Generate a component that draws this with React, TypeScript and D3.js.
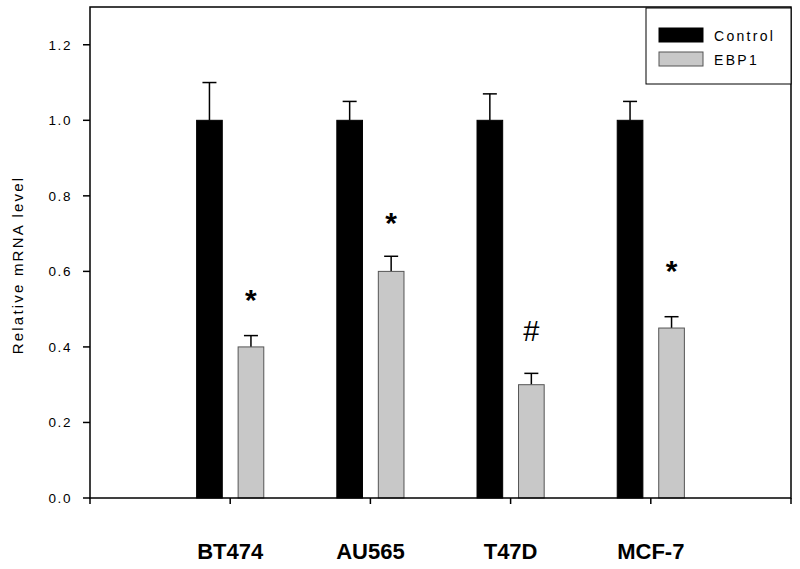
import React from "react";
import * as d3 from "d3";

const categories = ["BT474", "AU565", "T47D", "MCF-7"];
const controlValues = [1.0, 1.0, 1.0, 1.0];
const controlErrors = [0.1, 0.05, 0.07, 0.05];
const ebp1Values = [0.4, 0.6, 0.3, 0.45];
const ebp1Errors = [0.03, 0.04, 0.03, 0.03];
const markerLabels = ["*", "*", "#", "*"];
const markerValues = [0.54, 0.743, 0.445, 0.616];
const yTicks = [0.0, 0.2, 0.4, 0.6, 0.8, 1.0, 1.2];
const legendLabels = ["Control", "EBP1"];

const W = 800;
const H = 569;
const left = 90;
const right = 791;
const top = 7;
const bottom = 498;
const FONT = "'Liberation Sans', Arial, sans-serif";

export default function App() {
  const x = d3.scaleLinear().domain([0, categories.length + 1]).range([left, right]);
  const y = d3.scaleLinear().domain([0, 1.3]).range([bottom, top]);
  const barW = 0.183;
  const off = 0.148;
  const capHalf = 7;
  const xTicks = d3.range(0, categories.length + 2);
  const series = [
    { values: controlValues, errors: controlErrors, fill: "#000", stroke: "#000", dx: -off },
    { values: ebp1Values, errors: ebp1Errors, fill: "#c8c8c8", stroke: "#555", dx: off },
  ];
  const bw = x(barW) - x(0);

  return (
    <svg width={W} height={H} style={{ position: "absolute", left: 0, top: 0, background: "#fff" }}>
      <rect x={0} y={0} width={W} height={H} fill="#fff" />
      {series.map((s, si) =>
        categories.map((c, i) => {
          const cx = x(i + 1 + s.dx);
          const yt = y(s.values[i]);
          const ye = y(s.values[i] + s.errors[i]);
          return (
            <g key={`${si}-${c}`}>
              <line x1={cx} x2={cx} y1={yt} y2={ye} stroke="#000" strokeWidth={1.5} />
              <line x1={cx - capHalf} x2={cx + capHalf} y1={ye} y2={ye} stroke="#000" strokeWidth={1.5} />
              <rect
                x={cx - bw / 2}
                y={yt}
                width={bw}
                height={bottom - yt}
                fill={s.fill}
                stroke={s.stroke}
                strokeWidth={1}
              />
            </g>
          );
        })
      )}
      {categories.map((c, i) => {
        const cx = x(i + 1 + off);
        const isStar = markerLabels[i] === "*";
        const base = y(markerValues[i]) + (isStar ? 16 : 11);
        return (
          <text
            key={`m-${c}`}
            x={cx}
            y={base}
            textAnchor="middle"
            fontFamily={FONT}
            fontSize={isStar ? 30 : 29}
            fontWeight={isStar ? "bold" : "normal"}
            fill="#000"
          >
            {markerLabels[i]}
          </text>
        );
      })}
      {/* frame */}
      <rect x={left} y={top} width={right - left} height={bottom - top} fill="none" stroke="#000" strokeWidth={1.5} />
      {/* y ticks */}
      {yTicks.map((t) => (
        <g key={`y-${t}`}>
          <line x1={left - 7} x2={left} y1={y(t)} y2={y(t)} stroke="#000" strokeWidth={1.5} />
          <text
            x={72}
            y={y(t)}
            dy="0.36em"
            textAnchor="end"
            fontFamily={FONT}
            fontSize={13.5}
            letterSpacing={1.6}
            fill="#000"
          >
            {t.toFixed(1)}
          </text>
        </g>
      ))}
      {/* x ticks */}
      {xTicks.map((t) => (
        <line key={`x-${t}`} x1={x(t)} x2={x(t)} y1={bottom} y2={bottom + 6} stroke="#000" strokeWidth={1.5} />
      ))}
      {categories.map((c, i) => (
        <text
          key={`c-${c}`}
          x={x(i + 1)}
          y={559}
          textAnchor="middle"
          fontFamily={FONT}
          fontSize={22}
          fontWeight="bold"
          fill="#000"
        >
          {c}
        </text>
      ))}
      <text
        transform={`translate(23,${265}) rotate(-90)`}
        textAnchor="middle"
        fontFamily={FONT}
        fontSize={15}
        letterSpacing={2.2}
        fill="#000"
      >
        Relative mRNA level
      </text>
      {/* legend */}
      <rect x={646} y={8} width={791 - 646} height={76} fill="#fff" stroke="#000" strokeWidth={1} />
      {legendLabels.map((l, i) => (
        <g key={`l-${l}`}>
          <rect
            x={659}
            y={28 + i * 24}
            width={44}
            height={14}
            fill={series[i].fill}
            stroke={series[i].stroke}
            strokeWidth={1}
          />
          <text x={714} y={41 + i * 24} fontFamily={FONT} fontSize={14} letterSpacing={2.3} fill="#000">
            {l}
          </text>
        </g>
      ))}
    </svg>
  );
}
